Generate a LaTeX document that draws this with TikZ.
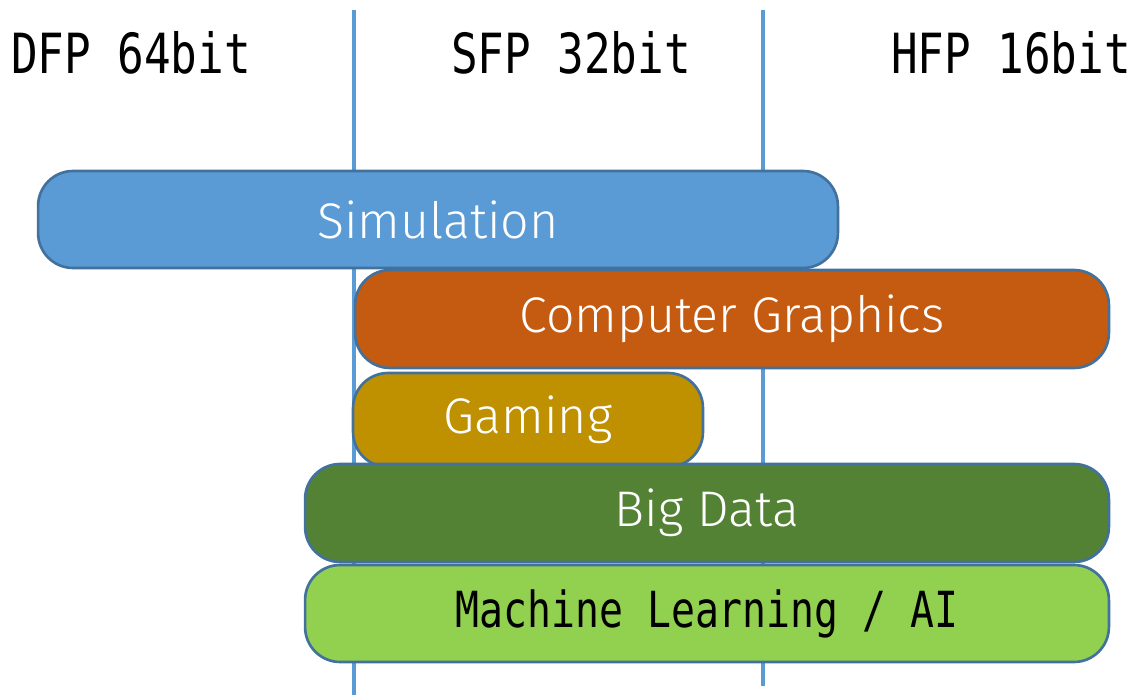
\documentclass[tikz,border=0pt]{standalone}
\usepackage{fontspec}
\usepackage{xcolor}
\usetikzlibrary{positioning}
\newfontfamily\headfont[FakeStretch=0.8]{DejaVu Sans Mono}
\newfontfamily\barfont{Fira Sans Light}
\definecolor{simblue}{HTML}{5B9BD5}
\definecolor{cgorange}{HTML}{C55A11}
\definecolor{gamegold}{HTML}{BF9000}
\definecolor{bdgreen}{HTML}{548235}
\definecolor{mlgreen}{HTML}{92D050}
\definecolor{barline}{HTML}{41719C}
\tikzset{
  header/.style={inner sep=0pt, font=\headfont\fontsize{31.5}{31.5}\selectfont},
  divider/.style={draw=simblue, line width=2.3pt},
  bar/.style={draw=barline, line width=1.5pt, rounded corners=0.7cm, inner sep=0pt,
    text=white, font=\barfont\fontsize{28.5}{28.5}\selectfont}
}
\begin{document}
\begin{tikzpicture}[x=0.02cm, y=-0.02cm]
\useasboundingbox (0,0) rectangle (1138,695);

% dividers
\coordinate (sfptop) at (354,10);
\coordinate (sfpbot) at (354,695);
\coordinate (hfptop) at (763,10);
\coordinate (hfpbot) at (763,686);
\draw[divider] (sfptop) -- (sfpbot);
\draw[divider] (hfptop) -- (hfpbot);

% precision headers
\node[header] (dfp) at (131,53) {DFP 64bit};
\node[header] (sfp) at (571,53) {SFP 32bit};
\node[header] (hfp) at (1011,53) {HFP 16bit};

% application bars
\node[bar, fill=simblue, minimum width=16cm, minimum height=1.94cm] (sim) at (438,219.5) {Simulation};
\node[bar, fill=cgorange, minimum width=15.08cm, minimum height=1.96cm] (cg) at (732,319) {Computer Graphics};
\node[bar, fill=gamegold, minimum width=7cm, minimum height=1.88cm] (gaming) at (528,420) {Gaming};
\node[bar, fill=bdgreen, minimum width=16.08cm, minimum height=1.96cm] (bigdata) at (707,513) {Big Data};
\node[bar, fill=mlgreen, minimum width=16.08cm, minimum height=1.94cm, text=black,
  font=\headfont\fontsize{28.3}{28.3}\selectfont] (ml) at (707,613.5) {\raisebox{-4pt}{Machine Learning / AI}};
\end{tikzpicture}
\end{document}
